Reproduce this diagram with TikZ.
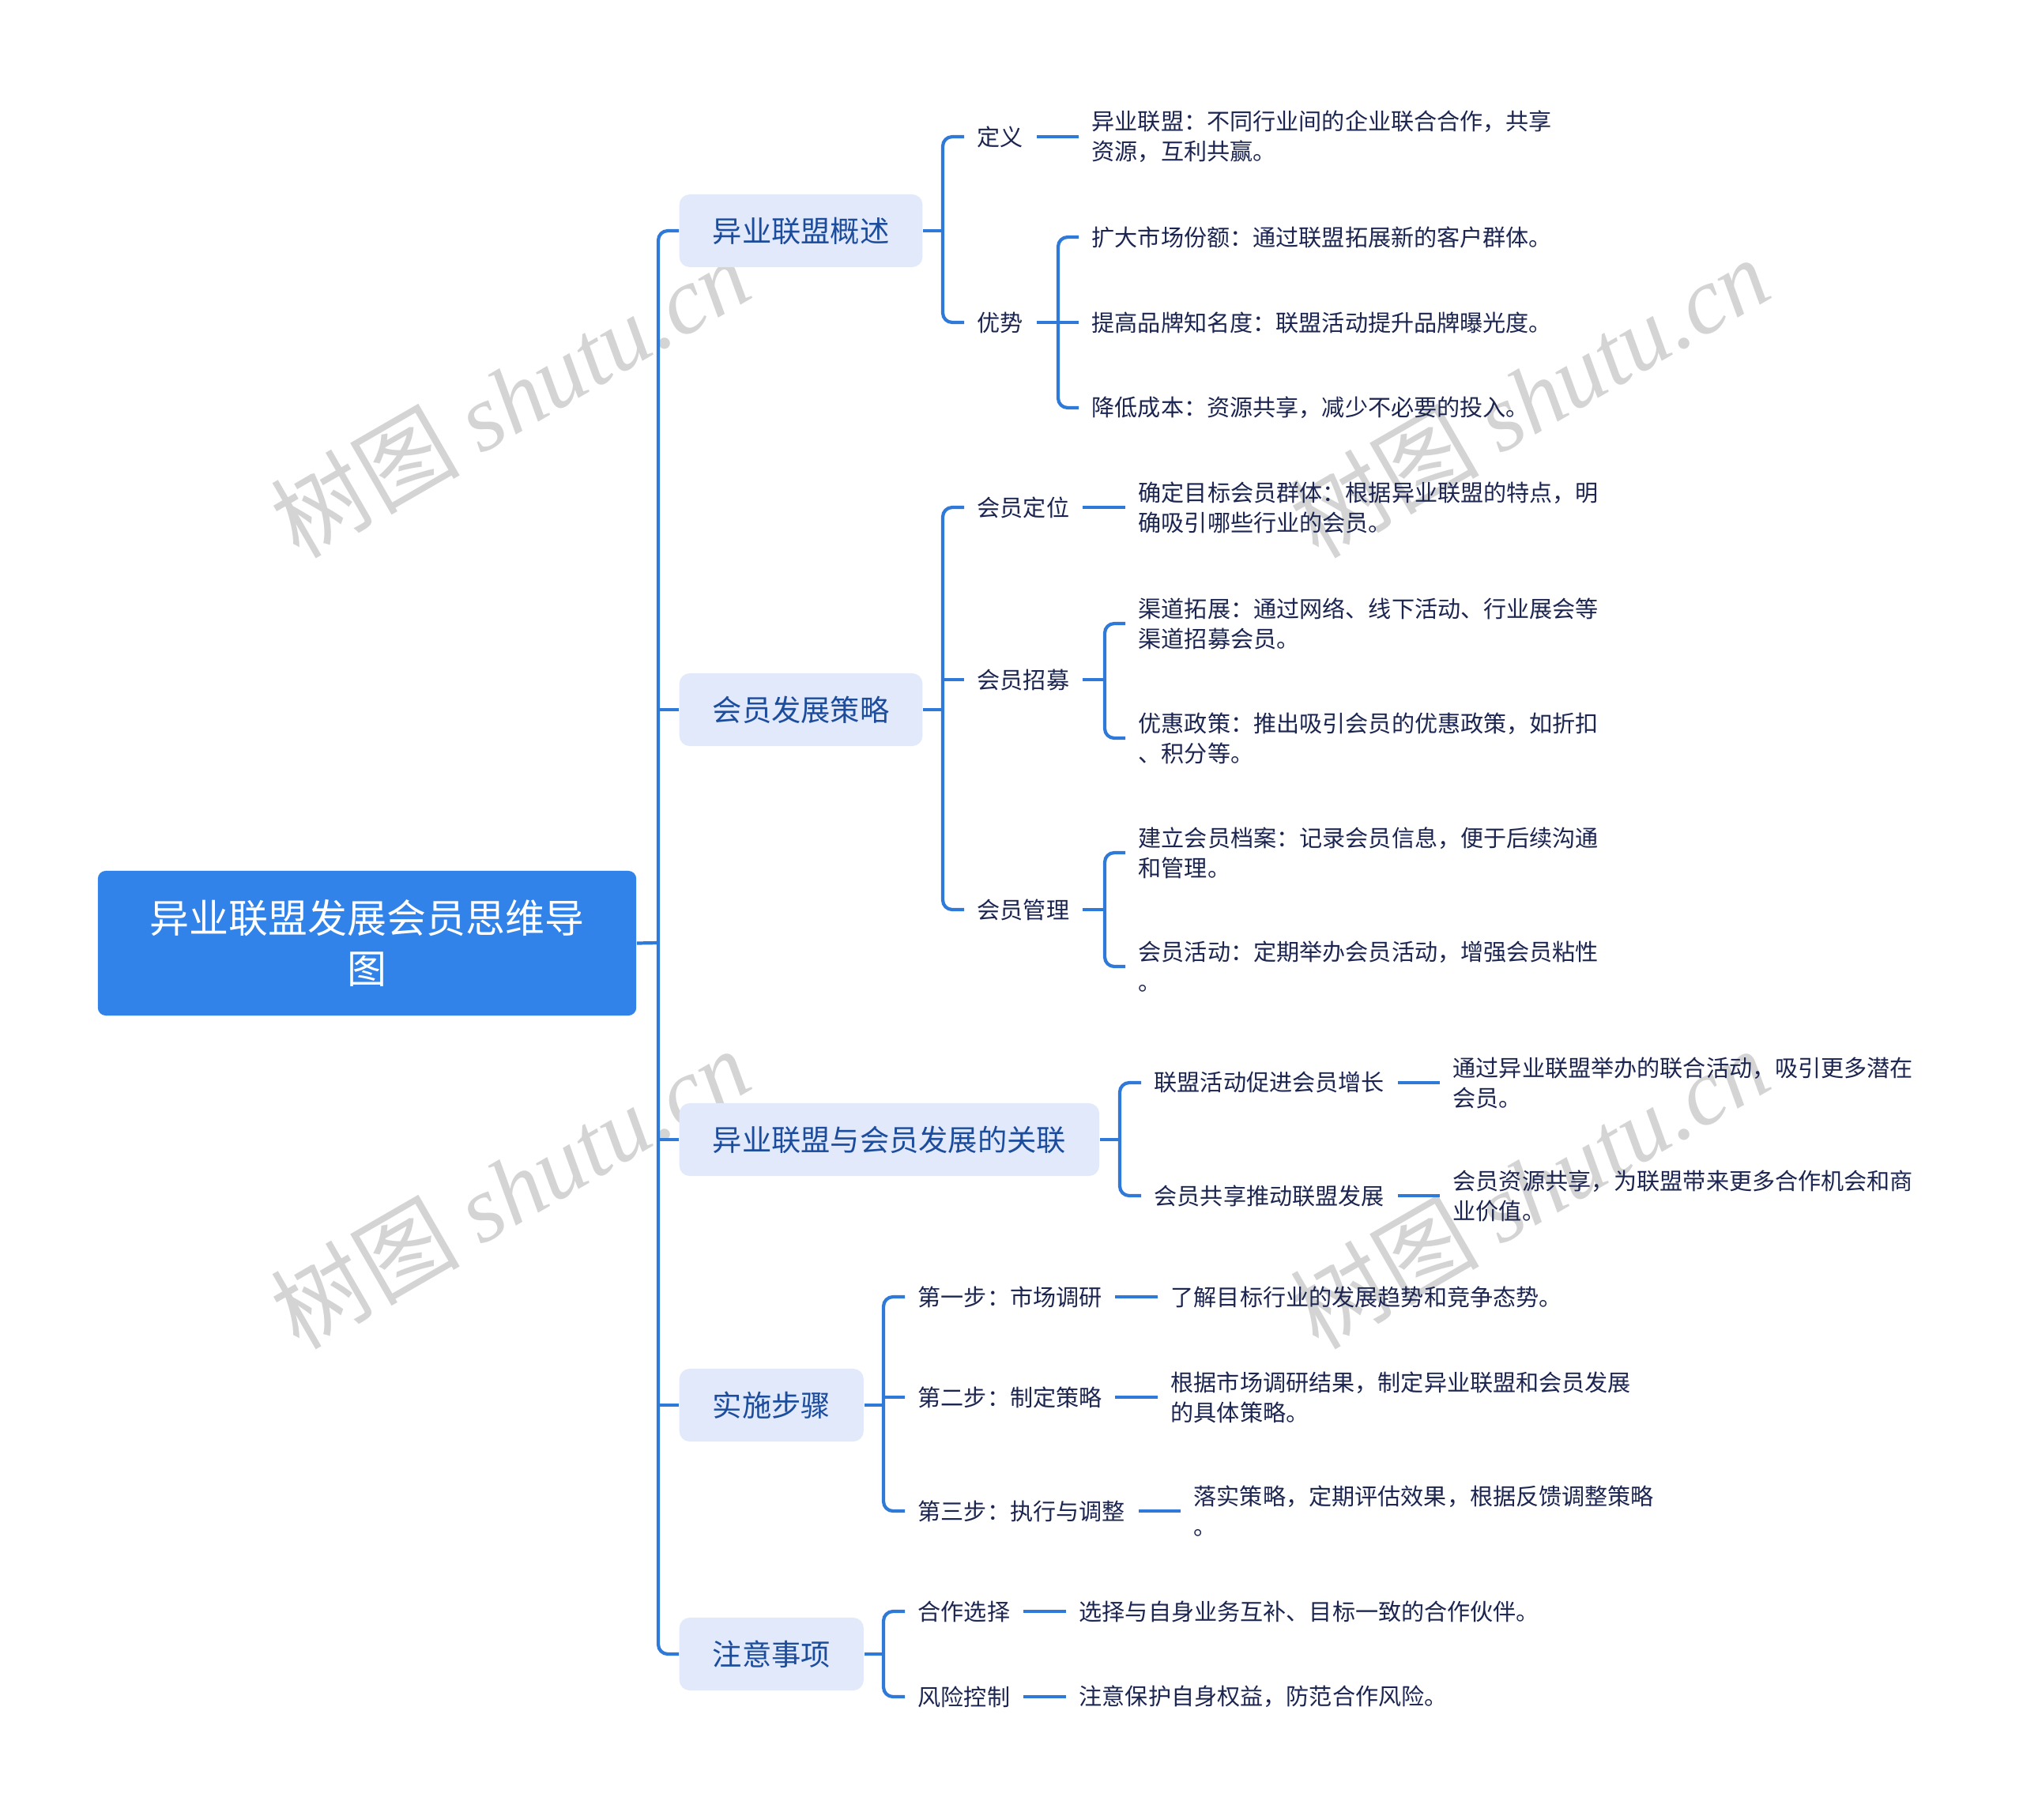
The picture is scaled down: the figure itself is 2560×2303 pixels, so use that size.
\documentclass[tikz,border=0pt]{standalone}
\usepackage{fontspec}
\setmainfont{Noto Sans CJK SC}
\newfontfamily\wmserif{Liberation Serif}
\definecolor{lineblue}{HTML}{2F7AD9}
\definecolor{rootblue}{HTML}{3182E9}
\definecolor{lonefill}{HTML}{E1E9FB}
\definecolor{lonetext}{HTML}{1C4C9C}
\definecolor{leaftext}{HTML}{1B2550}
\definecolor{wmgray}{HTML}{D4D4D4}
\tikzset{
  rootbox/.style={fill=rootblue, text=white, rounded corners=0.1cm, minimum width=6.81cm, minimum height=1.83cm, align=center, inner sep=0pt, font=\fontsize{14.2}{18.2}\selectfont},
  lonebox/.style={fill=lonefill, text=lonetext, rounded corners=0.13cm, anchor=west, inner xsep=0.42cm, inner ysep=0pt, minimum height=0.92cm, font=\fontsize{10.6}{13}\selectfont},
  ltwo/.style={anchor=west, text=leaftext, inner xsep=0.16cm, inner ysep=0pt, align=left, font=\fontsize{8.28}{10.8}\selectfont},
  leaf/.style={ltwo},
  conn/.style={draw=lineblue, line width=1.2pt, rounded corners=0.12cm},
  dashc/.style={draw=lineblue, line width=1.3pt},
  wm/.style={text=wmgray, rotate=30, font=\fontsize{34}{40}\selectfont}
}
\begin{document}
\begin{tikzpicture}[x=0.01cm,y=-0.01cm]
\useasboundingbox (0,0) rectangle (2560,2303);
% ---- watermarks (behind)
\node[wm] (w1) at (645,502) {树图 {\wmserif\itshape shutu.cn}};
\node[wm] (w2) at (1935,502) {树图 {\wmserif\itshape shutu.cn}};
\node[wm] (w3) at (645,1503) {树图 {\wmserif\itshape shutu.cn}};
\node[wm] (w4) at (1935,1503) {树图 {\wmserif\itshape shutu.cn}};
% root
\node[rootbox] (root) at (464.5,1193.5) {异业联盟发展会员思维导\\图};
% level 1
\node[lonebox] (n1) at (859,292) {异业联盟概述};
\node[lonebox] (n2) at (859,898) {会员发展策略};
\node[lonebox] (n3) at (859,1442) {异业联盟与会员发展的关联};
\node[lonebox] (n4) at (859,1778) {实施步骤};
\node[lonebox] (n5) at (859,2093) {注意事项};
\coordinate (t) at (833,1193);
\draw[conn] (root.east) -- (t);
\draw[conn] (n1.west) -- (n1.west -| t) -- (n5.west -| t) -- (n5.west);
\draw[conn] (n2.west -| t) -- (n2.west);
\draw[conn] (n3.west -| t) -- (n3.west);
\draw[conn] (n4.west -| t) -- (n4.west);

% ---- branch 1
\node[ltwo] (a1) at (1220,173) {定义};
\node[ltwo] (a2) at (1220,408) {优势};
\node[leaf] (a1l) at (1365,173) {异业联盟：不同行业间的企业联合合作，共享\\资源，互利共赢。};
\node[leaf] (a2l1) at (1365,300) {扩大市场份额：通过联盟拓展新的客户群体。};
\node[leaf] (a2l2) at (1365,408) {提高品牌知名度：联盟活动提升品牌曝光度。};
\node[leaf] (a2l3) at (1365,516) {降低成本：资源共享，减少不必要的投入。};
\coordinate (b1) at (1193,292);
\draw[conn] (n1.east) -- (b1);
\draw[conn] (a1.west) -- (a1.west -| b1) -- (a2.west -| b1) -- (a2.west);
\draw[dashc] (a1.east) -- (a1l.west);
\coordinate (b1b) at (1339,408);
\draw[conn] (a2.east) -- (a2l2.west);
\draw[conn] (a2l1.west) -- (a2l1.west -| b1b) -- (a2l3.west -| b1b) -- (a2l3.west);

% ---- branch 2
\node[ltwo] (c1) at (1220,642) {会员定位};
\node[ltwo] (c2) at (1220,860) {会员招募};
\node[ltwo] (c3) at (1220,1151) {会员管理};
\node[leaf] (c1l) at (1424,642) {确定目标会员群体：根据异业联盟的特点，明\\确吸引哪些行业的会员。};
\node[leaf] (c2l1) at (1424,789) {渠道拓展：通过网络、线下活动、行业展会等\\渠道招募会员。};
\node[leaf] (c2l2) at (1424,934) {优惠政策：推出吸引会员的优惠政策，如折扣\\、积分等。};
\node[leaf] (c3l1) at (1424,1079) {建立会员档案：记录会员信息，便于后续沟通\\和管理。};
\node[leaf] (c3l2) at (1424,1223) {会员活动：定期举办会员活动，增强会员粘性\\。};
\coordinate (b2) at (1193,898);
\draw[conn] (n2.east) -- (b2);
\draw[conn] (c1.west) -- (c1.west -| b2) -- (c3.west -| b2) -- (c3.west);
\draw[conn] (c2.west -| b2) -- (c2.west);
\draw[dashc] (c1.east) -- (c1l.west);
\coordinate (b2b) at (1398,860);
\draw[conn] (c2.east) -- (b2b);
\draw[conn] (c2l1.west) -- (c2l1.west -| b2b) -- (c2l2.west -| b2b) -- (c2l2.west);
\coordinate (b2c) at (1398,1151);
\draw[conn] (c3.east) -- (b2c);
\draw[conn] (c3l1.west) -- (c3l1.west -| b2c) -- (c3l2.west -| b2c) -- (c3l2.west);

% ---- branch 3
\node[ltwo] (e1) at (1444,1370) {联盟活动促进会员增长};
\node[ltwo] (e2) at (1444,1513) {会员共享推动联盟发展};
\node[leaf] (e1l) at (1822,1370) {通过异业联盟举办的联合活动，吸引更多潜在\\会员。};
\node[leaf] (e2l) at (1822,1513) {会员资源共享，为联盟带来更多合作机会和商\\业价值。};
\coordinate (b3) at (1417,1442);
\draw[conn] (n3.east) -- (b3);
\draw[conn] (e1.west) -- (e1.west -| b3) -- (e2.west -| b3) -- (e2.west);
\draw[dashc] (e1.east) -- (e1l.west);
\draw[dashc] (e2.east) -- (e2l.west);

% ---- branch 4
\node[ltwo] (f1) at (1145,1641) {第一步：市场调研};
\node[ltwo] (f2) at (1145,1768) {第二步：制定策略};
\node[ltwo] (f3) at (1145,1912) {第三步：执行与调整};
\node[leaf] (f1l) at (1465,1641) {了解目标行业的发展趋势和竞争态势。};
\node[leaf] (f2l) at (1465,1768) {根据市场调研结果，制定异业联盟和会员发展\\的具体策略。};
\node[leaf] (f3l) at (1494,1912) {落实策略，定期评估效果，根据反馈调整策略\\。};
\coordinate (b4) at (1118,1778);
\draw[conn] (n4.east) -- (b4);
\draw[conn] (f1.west) -- (f1.west -| b4) -- (f3.west -| b4) -- (f3.west);
\draw[conn] (f2.west -| b4) -- (f2.west);
\draw[dashc] (f1.east) -- (f1l.west);
\draw[dashc] (f2.east) -- (f2l.west);
\draw[dashc] (f3.east) -- (f3l.west);

% ---- branch 5
\node[ltwo] (g1) at (1145,2039) {合作选择};
\node[ltwo] (g2) at (1145,2147) {风险控制};
\node[leaf] (g1l) at (1349,2039) {选择与自身业务互补、目标一致的合作伙伴。};
\node[leaf] (g2l) at (1349,2147) {注意保护自身权益，防范合作风险。};
\coordinate (b5) at (1118,2093);
\draw[conn] (n5.east) -- (b5);
\draw[conn] (g1.west) -- (g1.west -| b5) -- (g2.west -| b5) -- (g2.west);
\draw[dashc] (g1.east) -- (g1l.west);
\draw[dashc] (g2.east) -- (g2l.west);
\end{tikzpicture}
\end{document}
